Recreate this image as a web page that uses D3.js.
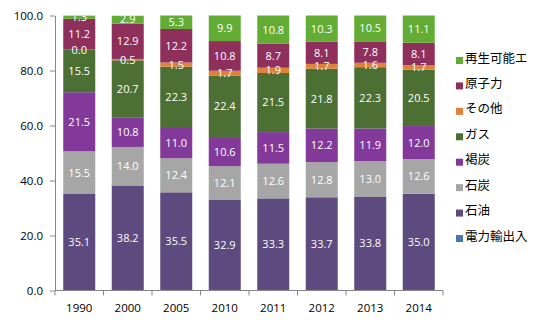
<!DOCTYPE html>
<html>
<head>
<meta charset="utf-8">
<script src="https://cdn.jsdelivr.net/npm/d3@7"></script>
<style>
  body { margin: 0; background: #fff; }
  svg { display: block; }
</style>
</head>
<body>
<div id="chart"></div>
<script>
// categories (years)
const years = ['1990', '2000', '2005', '2010', '2011', '2012', '2013', '2014'];

// series, bottom to top
const seriesNames = ['電力輸出入', '石油', '石炭', '褐炭', 'ガス', 'その他', '原子力', '再生可能エ'];

const power  = [0.0, 0.0, 0.2, 0.2, 0.2, 0.2, 0.2, 0.2];
const oil    = [35.1, 38.2, 35.5, 32.9, 33.3, 33.7, 33.8, 35.0];
const coal   = [15.5, 14.0, 12.4, 12.1, 12.6, 12.8, 13.0, 12.6];
const lignite= [21.5, 10.8, 11.0, 10.6, 11.5, 12.2, 11.9, 12.0];
const gas    = [15.5, 20.7, 22.3, 22.4, 21.5, 21.8, 22.3, 20.5];
const other  = [0.0, 0.5, 1.5, 1.7, 1.9, 1.7, 1.6, 1.7];
const nuclear= [11.2, 12.9, 12.2, 10.8, 8.7, 8.1, 7.8, 8.1];
const renew  = [1.3, 2.9, 5.3, 9.9, 10.8, 10.3, 10.5, 11.1];

const yTicks = [0, 20, 40, 60, 80, 100];

const seriesValues = [power, oil, coal, lignite, gas, other, nuclear, renew];
const colors = ['#4677ad', '#5d4a7e', '#a6a6a6', '#82399a', '#4c6f34', '#e0823a', '#8f2f5b', '#63ad34'];

// layout
const W = 557, H = 325;
const M = {left: 55, top: 15.5, right: 114, bottom: 34.5};

const svg = d3.select('#chart').append('svg')
  .attr('width', W).attr('height', H);

const x = d3.scaleBand().domain(years).range([M.left, W - M.right]).paddingInner(0.34).paddingOuter(0.17);
const y = d3.scaleLinear().domain([0, 100]).range([H - M.bottom, M.top]);

// table for the stack
const table = years.map((yr, i) => {
  const row = {year: yr};
  seriesNames.forEach((s, k) => row[s] = seriesValues[k][i]);
  return row;
});
const stacked = d3.stack().keys(seriesNames)(table);

// totals go a bit over 100, the axis stops at 100
svg.append('clipPath').attr('id', 'plotClip')
  .append('rect')
  .attr('x', M.left).attr('y', y(100))
  .attr('width', W - M.right - M.left).attr('height', y(0) - y(100));

const bars = svg.append('g').attr('clip-path', 'url(#plotClip)');

stacked.forEach((layer, k) => {
  bars.selectAll(null)
    .data(layer)
    .enter()
    .append('rect')
    .attr('x', d => x(d.data.year))
    .attr('width', x.bandwidth())
    .attr('y', d => y(d[1]))
    .attr('height', d => y(d[0]) - y(d[1]))
    .attr('fill', colors[k]);
});

// data labels (not for the power import series)
stacked.forEach((layer, k) => {
  if (k === 0) return;
  bars.selectAll(null)
    .data(layer)
    .enter()
    .append('text')
    .attr('x', d => x(d.data.year) + x.bandwidth() / 2)
    .attr('y', d => y((d[0] + Math.min(d[1], 100)) / 2))
    .attr('dy', '0.36em')
    .attr('text-anchor', 'middle')
    .attr('fill', '#fff')
    .style('font-family', '"Open Sans", sans-serif')
    .style('font-size', '11px')
    .text(d => (d[1] - d[0]).toFixed(1));
});

// y axis
const yAxis = d3.axisLeft(y).tickValues(yTicks).tickFormat(d3.format('.1f')).tickSize(5).tickSizeOuter(0);
const gy = svg.append('g')
  .attr('transform', 'translate(' + M.left + ',0)')
  .call(yAxis);
gy.select('.domain').attr('stroke', '#868686');
gy.selectAll('.tick line').attr('stroke', '#868686');
gy.selectAll('.tick text')
  .attr('x', -12)
  .attr('fill', '#000')
  .style('font-family', '"Open Sans", sans-serif')
  .style('font-size', '11.5px');

// x axis, ticks between categories
const gx = svg.append('g')
  .attr('transform', 'translate(0,' + y(0) + ')');
gx.append('line')
  .attr('x1', M.left).attr('x2', W - M.right)
  .attr('stroke', '#868686');
const step = x.step();
gx.selectAll('line.tk')
  .data(d3.range(years.length + 1))
  .enter()
  .append('line')
  .attr('class', 'tk')
  .attr('x1', i => M.left + i * step)
  .attr('x2', i => M.left + i * step)
  .attr('y1', 0).attr('y2', 5)
  .attr('stroke', '#868686');
gx.selectAll('text')
  .data(years)
  .enter()
  .append('text')
  .attr('x', d => x(d) + x.bandwidth() / 2)
  .attr('y', 17)
  .attr('dy', '0.36em')
  .attr('text-anchor', 'middle')
  .attr('fill', '#000')
  .style('font-family', '"Open Sans", sans-serif')
  .style('font-size', '11.5px')
  .text(d => d);

// legend, reversed order
const legend = svg.append('g').attr('id', 'legend');
const legendItems = seriesNames.map((s, k) => ({name: s, color: colors[k]})).reverse();
const ly = d3.scalePoint().domain(legendItems.map(d => d.name)).range([58, 236]);

legend.selectAll('rect')
  .data(legendItems)
  .enter()
  .append('rect')
  .attr('x', 456).attr('width', 7).attr('height', 7)
  .attr('y', d => ly(d.name) - 1)
  .attr('fill', d => d.color);

legend.selectAll('text')
  .data(legendItems)
  .enter()
  .append('text')
  .attr('x', 465)
  .attr('y', d => ly(d.name))
  .attr('dy', '0.36em')
  .attr('fill', '#000')
  .style('font-family', '"Noto Sans CJK JP", sans-serif')
  .style('font-size', '12.5px')
  .text(d => d.name);
</script>
</body>
</html>
